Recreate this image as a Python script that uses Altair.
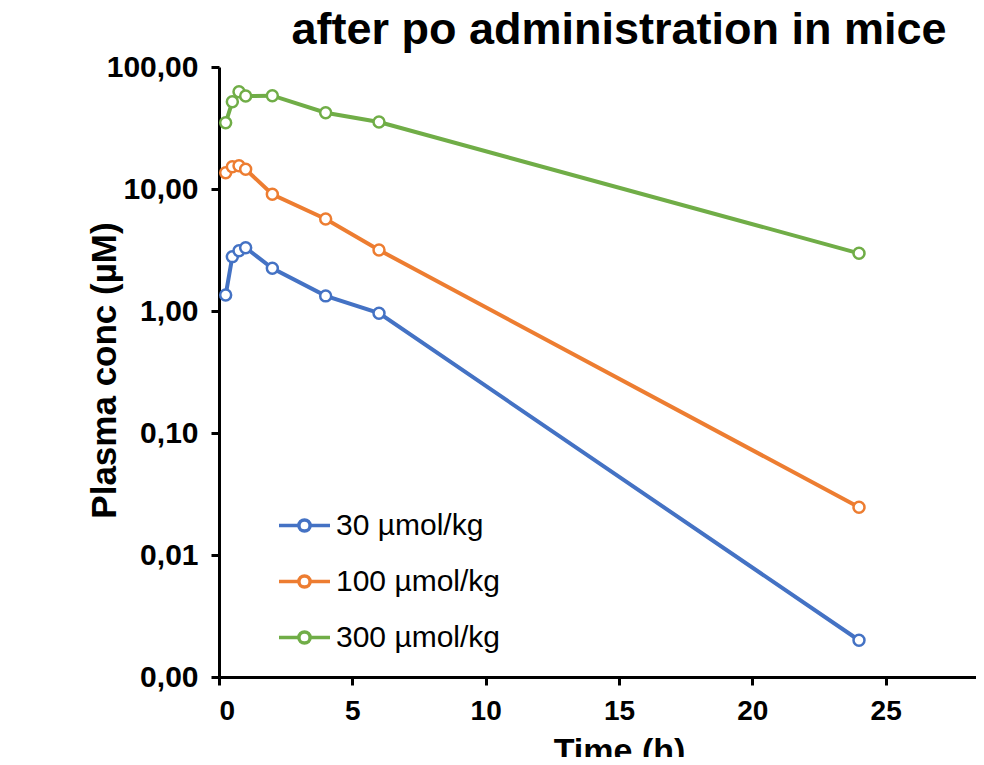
import altair as alt
import pandas as pd

times = [0.25, 0.5, 0.75, 1, 2, 4, 6, 24]
series_names = ["30 µmol/kg", "100 µmol/kg", "300 µmol/kg"]
c30 = [1.35, 2.79, 3.12, 3.30, 2.24, 1.33, 0.96, 0.0020]
c100 = [13.6, 15.2, 15.5, 14.5, 9.05, 5.68, 3.16, 0.0246]
c300 = [34.9, 51.9, 62.7, 57.8, 58.2, 42.2, 35.4, 2.97]
colors = ["#4472C4", "#ED7D31", "#70AD47"]
y_ticks = [0.001, 0.01, 0.1, 1, 10, 100]
x_ticks = [0, 5, 10, 15, 20, 25]

rows = []
for name, vals in zip(series_names, [c30, c100, c300]):
    for t, v in zip(times, vals):
        rows.append({"t": t, "c": v, "dose": name})
df = pd.DataFrame(rows)

FONT = "Liberation Sans, Arial, sans-serif"

legend_path = "M-1,0L-0.22,0M0.22,0L1,0M0.22,0A0.22,0.22,0,1,1,-0.22,0A0.22,0.22,0,1,1,0.22,0"

color = alt.Color(
    "dose:N",
    scale=alt.Scale(domain=series_names, range=colors),
    sort=series_names,
    legend=alt.Legend(
        title=None,
        orient="none",
        legendX=58,
        legendY=431,
        padding=0,
        symbolType=legend_path,
        symbolSize=2600,
        symbolStrokeWidth=3.5,
        symbolFillColor="white",
        rowPadding=13,
        labelOffset=4,
        labelLimit=400,
        labelFont=FONT,
        labelFontSize=30,
        labelColor="#000000",
        labelBaseline="middle",
    ),
)

x = alt.X(
    "t:Q",
    scale=alt.Scale(domain=[0, 30], nice=False),
    axis=alt.Axis(
        title="Time (h)",
        values=x_ticks,
        grid=False,
        domainColor="black",
        domainWidth=3,
        tickColor="black",
        tickWidth=3,
        tickSize=8,
        labelFont=FONT,
        labelFontSize=28,
        labelFontWeight="bold",
        labelColor="black",
        labelPadding=12,
        titleFont=FONT,
        titleFontSize=34,
        titleFontWeight="bold",
        titleColor="black",
        titleY=57,
        titleBaseline="top",
    ),
)

y = alt.Y(
    "c:Q",
    scale=alt.Scale(type="log", domain=[0.001, 100], nice=False),
    axis=alt.Axis(
        title="Plasma conc (µM)",
        values=y_ticks,
        labelExpr="replace(format(datum.value, '.2f'), '.', ',')",
        grid=False,
        domainColor="black",
        domainWidth=3,
        tickColor="black",
        tickWidth=3,
        tickSize=8,
        labelFont=FONT,
        labelFontSize=30,
        labelFontWeight="bold",
        labelColor="black",
        labelPadding=13,
        titleFont=FONT,
        titleFontSize=35,
        titleFontWeight="bold",
        titleColor="black",
        titleAngle=270,
        titleX=-97,
        titleY=303,
        titleBaseline="bottom",
        titleAlign="center",
    ),
)

base = alt.Chart(df)
lines = base.mark_line(strokeWidth=4).encode(x=x, y=y, color=color, order="t:Q")
points = base.mark_point(filled=False, fill="white", size=120, strokeWidth=2.5, opacity=1).encode(
    x=x, y=y, color=color
)

chart = (
    alt.layer(lines, points)
    .properties(
        width=800,
        height=610,
        title=alt.TitleParams(
            text="after po administration in mice",
            font=FONT,
            fontSize=45,
            fontWeight="bold",
            color="black",
            anchor="middle",
            offset=-1,
        ),
        autosize=alt.AutoSizeParams(type="none"),
        padding={"left": 211, "top": 59, "right": -43, "bottom": 80},
        background="white",
    )
    .configure_view(stroke=None)
)

chart.save("out.html", embed_options={"renderer": "svg", "actions": False})
